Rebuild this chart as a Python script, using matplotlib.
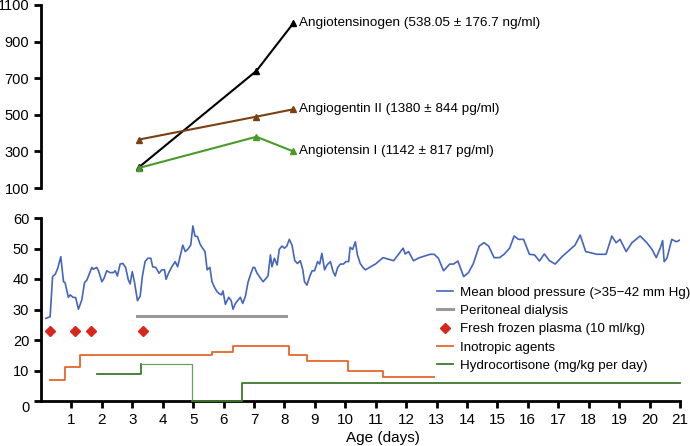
import numpy as np
import matplotlib.pyplot as plt

plt.rcParams['font.family'] = ['Liberation Sans', 'DejaVu Sans']
plt.rcParams['font.size'] = 10.5

# Renin-angiotensin measurements (top panel)
ras_days = [3.23, 7.08, 8.29]
angiotensinogen = [215, 740, 1000]
angiotensin_ii = [365, 490, 530]
angiotensin_i = [210, 380, 300]

# Mean blood pressure (bottom panel)
bp_days = [0.16, 0.30, 0.38, 0.47, 0.55, 0.65, 0.74, 0.79, 0.90, 0.96, 1.05, 1.14, 1.23, 1.34,
           1.43, 1.51, 1.67, 1.72, 1.83, 1.89, 2.00, 2.07, 2.16, 2.27, 2.38, 2.44, 2.51, 2.60,
           2.69, 2.78, 2.87, 2.93, 3.00, 3.07, 3.17, 3.26, 3.33, 3.42, 3.51, 3.61, 3.67, 3.77,
           3.88, 3.97, 4.06, 4.11, 4.19, 4.30, 4.41, 4.49, 4.57, 4.66, 4.74, 4.82, 4.92, 4.99,
           5.06, 5.14, 5.23, 5.31, 5.39, 5.46, 5.55, 5.62, 5.70, 5.79, 5.87, 5.93, 5.98, 6.06,
           6.17, 6.25, 6.31, 6.39, 6.46, 6.55, 6.63, 6.72, 6.80, 6.88, 6.97, 7.02, 7.10, 7.19,
           7.30, 7.37, 7.46, 7.54, 7.59, 7.67, 7.76, 7.83, 7.92, 8.00, 8.08, 8.16, 8.25, 8.34,
           8.43, 8.52, 8.60, 8.66, 8.74, 8.83, 8.91, 8.99, 9.09, 9.16, 9.23, 9.32, 9.40, 9.51,
           9.60, 9.67, 9.75, 9.84, 9.94, 10.02, 10.11, 10.16, 10.24, 10.33, 10.40, 10.49, 10.58,
           10.66, 10.99, 11.24, 11.59, 11.90, 11.97, 12.08, 12.24, 12.44, 12.79, 12.92, 13.06,
           13.23, 13.43, 13.56, 13.70, 13.89, 14.05, 14.21, 14.40, 14.56, 14.71, 14.89, 15.07,
           15.23, 15.40, 15.55, 15.69, 15.86, 16.05, 16.22, 16.38, 16.54, 16.71, 16.90, 17.12,
           17.55, 17.72, 17.90, 18.27, 18.57, 18.76, 18.90, 19.03, 19.23, 19.42, 19.69, 19.91,
           20.08, 20.22, 20.35, 20.43, 20.48, 20.57, 20.73, 20.88, 21.00]
bp_values = [27.1, 27.6, 40.8, 41.6, 43.5, 47.3, 39.1, 38.8, 34.0, 34.8, 34.0, 33.9, 30.1, 33.1,
             38.8, 39.7, 43.8, 43.2, 43.8, 42.7, 39.1, 40.2, 42.7, 42.1, 42.1, 42.7, 41.0, 44.9,
             45.1, 43.8, 39.7, 38.4, 42.4, 39.1, 32.9, 34.4, 40.8, 45.7, 46.8, 46.8, 44.0, 43.8,
             41.9, 43.0, 43.0, 39.9, 41.9, 44.0, 45.7, 44.0, 47.3, 51.1, 49.0, 49.7, 51.1, 57.4,
             54.1, 53.9, 51.4, 50.1, 49.0, 43.0, 43.8, 39.1, 37.3, 35.8, 35.1, 34.8, 36.1, 31.7,
             34.0, 32.9, 30.1, 32.0, 32.9, 34.0, 32.0, 34.4, 38.8, 41.3, 43.8, 43.8, 41.9, 40.6,
             39.1, 39.9, 41.0, 47.9, 44.0, 46.8, 44.6, 49.7, 50.8, 50.1, 50.8, 53.0, 51.1, 46.0,
             45.1, 46.0, 43.2, 39.1, 38.0, 40.8, 42.7, 42.7, 45.7, 44.9, 48.4, 43.0, 44.6, 45.7,
             42.4, 41.0, 43.8, 44.9, 44.9, 45.7, 45.7, 50.4, 49.7, 52.2, 47.9, 45.1, 43.8,
             43.0, 44.9, 47.0, 46.0, 50.1, 48.2, 49.0, 46.0, 47.0, 48.1, 48.1, 46.8,
             42.7, 44.9, 44.9, 45.9, 40.8, 42.1, 45.1, 50.8, 51.9, 50.8, 47.0, 47.0,
             48.2, 50.1, 54.1, 53.0, 53.0, 48.1, 47.9, 45.9, 48.2, 46.0, 44.9, 47.3,
             51.1, 54.4, 49.0, 48.1, 48.1, 54.1, 51.9, 53.0, 49.0, 51.9, 54.1, 51.9,
             49.7, 47.0, 50.1, 52.6, 45.7, 46.8, 53.0, 52.2, 52.8]

dialysis_days = [3.15, 8.05]
dialysis_level = [27.8, 27.8]

ffp_days = [0.31, 1.13, 1.65, 3.34]
ffp_level = [23, 23, 23, 23]

inotrope_days = [0.30, 0.79, 1.29, 5.63, 6.30, 8.15, 8.75, 10.08, 11.23, 12.90]
inotrope_level = [7, 11, 15, 16, 18, 15, 13, 10, 8, 8]

hydro_days = [1.83, 3.29, 4.97, 6.62, 21.0]
hydro_dose = [9, 12, 0, 6, 6]

fig = plt.figure(figsize=(6.9, 4.46), dpi=100)
ax_top = fig.add_axes([41 / 690, 1 - 188 / 446, 639 / 690, 183 / 446])
ax = fig.add_axes([41 / 690, 1 - 401 / 446, 639 / 690, 183 / 446])

# ---- top panel
ax_top.plot(ras_days, angiotensinogen, color='black', marker='^', ms=5, lw=1.5)
ax_top.plot(ras_days, angiotensin_ii, color='#7b3f14', marker='^', ms=5, lw=1.5)
ax_top.plot(ras_days, angiotensin_i, color='#4a9a2a', marker='^', ms=5, lw=1.5)
labels = ['Angiotensinogen (538.05 \u00b1 176.7 ng/ml)',
          'Angiogentin II (1380 \u00b1 844 pg/ml)',
          'Angiotensin I (1142 \u00b1 817 pg/ml)']
for series, lab in zip([angiotensinogen, angiotensin_ii, angiotensin_i], labels):
    ax_top.annotate(lab, (ras_days[-1], series[-1]), xytext=(4, 0),
                    textcoords='offset points', va='center', ha='left', fontsize=9.7)
ax_top.set_xlim(0, 21)
ax_top.set_ylim(100, 1100)
ax_top.set_yticks([100, 300, 500, 700, 900, 1100])
ax_top.set_xticks([])
for s in ['top', 'right', 'bottom']:
    ax_top.spines[s].set_visible(False)
ax_top.spines['left'].set_linewidth(2)
ax_top.tick_params(axis='y', direction='out', length=5, width=2)
ax_top.patch.set_alpha(0)

# ---- bottom panel
ax.plot(bp_days, bp_values, color='#4565bd', lw=1.2,
        label='Mean blood pressure (>35\u221242 mm Hg)')
ax.plot(dialysis_days, dialysis_level, color='#999999', lw=2.2, label='Peritoneal dialysis')
ax.plot(ffp_days, ffp_level, ls='none', marker='D', ms=5.5, color='#d8261c',
        label='Fresh frozen plasma (10 ml/kg)')
ax.step(inotrope_days, inotrope_level, where='post', color='#e5672a', lw=1.3,
        label='Inotropic agents')
ax.step(hydro_days[:2], hydro_dose[:2], where='post', color='#3c7a2c', lw=1.3,
        label='Hydrocortisone (mg/kg per day)')
ax.step(hydro_days[1:3], hydro_dose[1:3], where='post', color='#6aa060', lw=0.9)
ax.step(hydro_days[2:], hydro_dose[2:], where='post', color='#3c7a2c', lw=1.3,
        clip_on=False, zorder=3)

ax.set_xlim(0, 21)
ax.set_ylim(0, 60)
ax.set_xticks(range(1, 22))
ax.set_yticks(range(0, 61, 10))
for s in ['top', 'right']:
    ax.spines[s].set_visible(False)
ax.spines['left'].set_linewidth(2)
ax.spines['bottom'].set_linewidth(2)
ax.tick_params(direction='out', length=5, width=2)
ax.tick_params(axis='x', labelsize=11)
ax.get_yticklabels()[0].set_va('top')
ax.set_xlabel('Age (days)', fontsize=11)
ax.xaxis.set_label_coords(0.535, -0.2)
ax.xaxis.label.set_va('center')

ax.legend(loc='upper left', bbox_to_anchor=(0.611, 0.655), frameon=False,
          handlelength=1.2, handletextpad=0.58, labelspacing=0.45, borderaxespad=0,
          fontsize=9.6)

fig.savefig('out.png', dpi=100)
